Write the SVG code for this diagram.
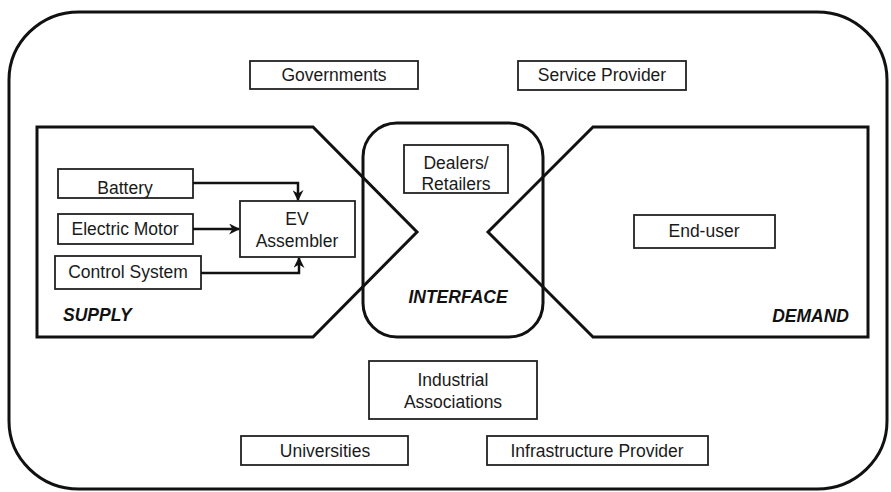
<svg xmlns="http://www.w3.org/2000/svg" width="891" height="492" viewBox="0 0 891 492">
<defs>
<marker id="arr" viewBox="0 0 10 10" refX="9" refY="5" markerWidth="4.4" markerHeight="4.4" orient="auto" markerUnits="strokeWidth">
<path d="M0,0 L10,5 L0,10 L3,5 Z" fill="#111"/>
</marker>
</defs>
<style>
.box{fill:#fff;stroke:#222;stroke-width:1.8}
.big{fill:none;stroke:#111;stroke-width:3}
.t{font-family:"Liberation Sans",Arial,sans-serif;font-size:17.5px;fill:#1a1a1a;text-anchor:middle}
.lab{font-family:"Liberation Sans",Arial,sans-serif;font-size:17.5px;font-weight:bold;font-style:italic;fill:#111}
.con{fill:none;stroke:#111;stroke-width:2.5}
</style>
<rect width="891" height="492" fill="#fff"/>
<rect id="frame" x="9" y="12" width="878" height="477" rx="70" ry="68" class="big"/>
<g id="supply">
<path d="M37,127 L313,127 L417,232 L313,337 L37,337 Z" class="big"/>
<text x="63" y="321" class="lab">SUPPLY</text>
</g>
<g id="interface">
<rect x="363" y="123" width="180" height="214" rx="34" class="big"/>
<text x="458" y="303" class="lab" text-anchor="middle">INTERFACE</text>
</g>
<g id="demand">
<path d="M593,127 L868,127 L868,337 L593,337 L488,232 Z" class="big"/>
<text x="849" y="322" class="lab" text-anchor="end">DEMAND</text>
</g>
<g id="governments"><rect x="250" y="61" width="168" height="28" class="box"/><text x="334" y="81" class="t">Governments</text></g>
<g id="service-provider"><rect x="518" y="61" width="168" height="29" class="box"/><text x="602" y="81" class="t">Service Provider</text></g>
<g id="dealers"><rect x="404" y="145" width="104" height="48" class="box"/><text x="456" y="169" class="t">Dealers/</text><text x="456" y="190" class="t">Retailers</text></g>
<g id="battery"><rect x="58" y="169" width="135" height="29" class="box"/><text x="125" y="194" class="t">Battery</text></g>
<g id="electric-motor"><rect x="58" y="214" width="135" height="30" class="box"/><text x="125" y="235" class="t">Electric Motor</text></g>
<g id="control-system"><rect x="55" y="256" width="146" height="33" class="box"/><text x="128" y="278" class="t">Control System</text></g>
<g id="ev-assembler"><rect x="240" y="201" width="115" height="56" class="box"/><text x="297" y="225" class="t">EV</text><text x="297" y="247" class="t">Assembler</text></g>
<g id="end-user"><rect x="634" y="215" width="141" height="33" class="box"/><text x="704" y="237" class="t">End-user</text></g>
<g id="industrial-associations"><rect x="369" y="361" width="168" height="58" class="box"/><text x="453" y="386" class="t">Industrial</text><text x="453" y="408" class="t">Associations</text></g>
<g id="universities"><rect x="241" y="436" width="167" height="29" class="box"/><text x="325" y="457" class="t">Universities</text></g>
<g id="infrastructure-provider"><rect x="487" y="436" width="221" height="29" class="box"/><text x="597" y="457" class="t">Infrastructure Provider</text></g>
<g id="connectors">
<path d="M193,183 L298,183 L298,200" class="con" marker-end="url(#arr)"/>
<path d="M193,229 L239,229" class="con" marker-end="url(#arr)"/>
<path d="M201,273 L299,273 L299,258" class="con" marker-end="url(#arr)"/>
</g>
</svg>
